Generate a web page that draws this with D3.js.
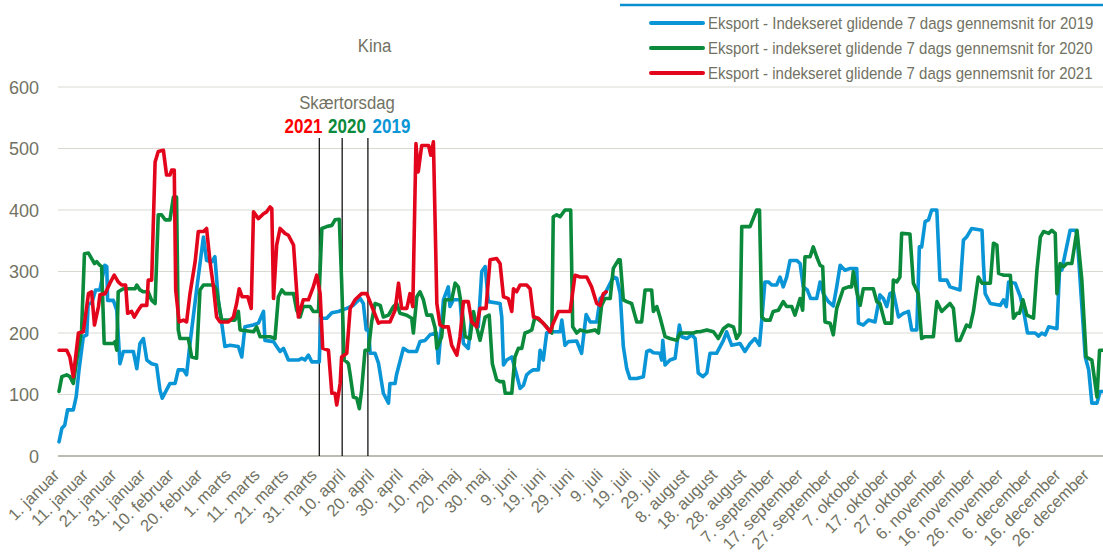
<!DOCTYPE html>
<html>
<head>
<meta charset="utf-8">
<script src="https://cdn.jsdelivr.net/npm/d3@7"></script>
<style>
  html, body { margin: 0; padding: 0; background: #fff; }
  svg { display: block; }
  text { font-family: "Liberation Sans", Arial, sans-serif; }
</style>
</head>
<body>
<svg id="chart" width="1103" height="560"></svg>
<script>
// ---------------- DATA ----------------
const title = "Kina";
const seriesNames = [
  "Eksport - Indekseret glidende 7 dags gennemsnit for 2019",
  "Eksport - indekseret glidende 7 dags gennemsnit for 2020",
  "Eksport - indekseret glidende 7 dags gennemsnit for 2021"
];
const yTicks = [0, 100, 200, 300, 400, 500, 600];
const tickDays = [1,11,21,31,41,51,61,71,81,91,101,111,121,131,141,151,161,171,181,191,201,211,221,231,241,251,261,271,281,291,301,311,321,331,341,351,361];
const tickLabels = ["1. januar","11. januar","21. januar","31. januar","10. februar","20. februar","1. marts","11. marts","21. marts","31. marts","10. april","20. april","30. april","10. maj","20. maj","30. maj","9. juni","19. juni","29. juni","9. juli","19. juli","29. juli","8. august","18. august","28. august","7. september","17. september","27. september","7. oktober","17. oktober","27. oktober","6. november","16. november","26. november","6. december","16. december","26. december"];
// Skærtorsdag (day of year on the shared axis)
const easterYears = ["2021", "2020", "2019"];
const easterDays = [92, 100, 109];

// [day, value]
const eksport2019 = [[1,23],[2,45],[3,50],[4,75],[6,75],[7,96],[8,140],[9.5,194],[10.7,197],[11.2,248],[12.4,248],[13.8,270],[15.3,270],[17,310],[17.7,308],[18,253],[20,253],[21.2,237],[22.3,150],[23.5,170],[27,170],[28.2,142],[29.3,183],[30.5,191],[31.7,156],[33.4,150],[35.1,148],[36.3,107],[37.1,94],[39.8,118],[41.6,118],[42.7,140],[44.5,140],[45.6,132],[46.8,183],[49.1,270],[51.5,356],[52.6,318],[54.4,316],[55.5,324],[56.7,253],[57.9,216],[59,178],[60.8,180],[63.7,178],[64.9,161],[66,210],[68.9,213],[70.7,216],[72.5,235],[73,188],[76,186],[77.1,178],[78.3,170],[79.5,175],[81.2,156],[84.7,156],[85.9,159],[87,156],[88.2,164],[89.4,153],[92,153],[92.5,224],[94.6,224],[96.4,233],[98.7,235],[99.8,237],[101.6,240],[103.9,245],[106.3,256],[107.4,248],[108.4,205],[109.2,205],[109.8,167],[111.5,167],[112.7,151],[114.4,102],[116.2,86],[116.7,118],[118.5,118],[119,132],[121.4,175],[123.2,170],[126,170],[127.2,186],[129,188],[130.7,197],[133,200],[133.6,151],[134.2,183],[135.4,254],[137.1,275],[137.7,243],[138.9,254],[141.2,254],[142.4,183],[144.1,175],[145.3,227],[147.6,210],[148.8,300],[150,308],[151.1,251],[155.2,248],[155.8,226],[156.4,148],[157.5,156],[159.3,161],[161,132],[162.2,110],[163.4,115],[164.5,132],[165.7,137],[166.8,140],[168.6,140],[169.2,172],[170.3,156],[171.5,200],[172.7,202],[176.2,202],[176.8,221],[177.9,180],[179.1,186],[182,187],[183.7,167],[185.3,230],[186.7,218],[189,218],[190.2,256],[191.9,264],[193.7,281],[194.8,291],[196,289],[197.2,264],[198.3,178],[199.5,142],[200.6,126],[203,126],[205.3,129],[206.5,170],[207.6,172],[208.8,168],[211.1,167],[211.7,156],[212.1,188],[212.9,148],[214.6,156],[216.4,159],[217.9,213],[218.7,194],[220.5,191],[222.2,197],[223.4,191],[224.5,135],[226.1,129],[227.5,135],[228.6,167],[230.9,167],[233.3,188],[234.4,202],[236.2,180],[239.1,183],[240.8,170],[242.6,183],[244.3,191],[245.9,180],[246.7,221],[247.8,283],[249,283],[250.2,278],[251.9,278],[253.1,291],[254.2,275],[255.4,291],[256.6,318],[258.9,318],[260.1,313],[261.2,275],[262.6,270],[263.8,256],[265.9,256],[267.1,283],[268.2,264],[270,251],[271.7,244],[272.9,275],[274.1,310],[275.8,302],[277.6,305],[279.9,305],[280.5,216],[282.2,213],[284,221],[286.3,218],[288,262],[289.2,256],[290.4,243],[291.5,264],[292.7,267],[294.5,226],[296.2,232],[298,235],[299.1,205],[300.9,205],[301.8,340],[302.6,340],[303.8,381],[305,384],[306.1,400],[307.9,400],[309,286],[311.4,286],[312.5,275],[316,270],[317.2,351],[318.3,356],[320.1,370],[323.7,367],[324.2,313],[324.8,264],[326.6,248],[330.1,245],[331.2,254],[332.2,243],[333,283],[335.3,281],[337.1,259],[338.2,237],[339.6,200],[342.3,200],[343.5,195],[344.6,200],[345.8,197],[347,210],[349.9,207],[350.8,302],[351.6,302],[352.2,316],[354.5,367],[356.3,367],[356.9,362],[359.8,161],[361,140],[362.1,86],[363.9,86],[365,105],[366,105]];

const eksport2020 = [[1,105],[2,129],[3.7,132],[4.8,129],[6,118],[7,150],[8.9,205],[9.9,329],[11.3,330],[12.4,321],[13.4,313],[14.2,316],[15.3,310],[15.9,308],[16.8,183],[20,183],[20.6,186],[21.2,172],[21.7,267],[23.5,272],[27.6,272],[28.2,278],[29.3,270],[30.5,267],[32.2,267],[33.4,253],[34.6,248],[35.7,392],[36.9,392],[38.1,384],[39.8,384],[41,421],[42.1,421],[42.7,205],[43.3,191],[46.2,191],[47.4,161],[49.1,159],[50.3,270],[51.5,278],[55,278],[56.1,270],[57.3,235],[57.9,221],[62.5,221],[63.7,235],[64.3,205],[69,202],[70.1,210],[71.3,194],[74.8,194],[76.5,191],[77.7,259],[78.9,270],[80,264],[83,264],[84.1,237],[85.3,226],[86.4,243],[88.8,243],[89.9,235],[91.7,235],[92.9,370],[94.6,373],[96.4,375],[97.5,384],[99,385],[99.8,286],[100.7,156],[101.6,153],[102.2,150],[102.8,132],[103.9,96],[105.1,94],[106,77],[106.8,107],[108,172],[109.2,172],[110.3,218],[111.5,248],[113.3,245],[114.4,226],[116.2,229],[117.9,243],[119.1,248],[120.2,232],[122.6,229],[124.3,224],[124.9,200],[126.1,259],[127.2,267],[128.4,254],[129.6,229],[131.3,229],[132.5,208],[133.1,175],[134.8,194],[136,254],[138.3,254],[139.5,281],[140.6,275],[141.8,243],[143,194],[144.7,191],[145.9,235],[147,210],[148.2,188],[150,226],[151.4,229],[152.5,150],[154,124],[155.2,121],[156.4,121],[157,102],[159.3,102],[160.4,161],[161.6,175],[162.8,175],[163.9,200],[165.1,202],[166.3,205],[167.4,226],[169.8,218],[171.5,210],[173.3,200],[173.8,389],[175,392],[176.2,389],[177.9,400],[179.9,400],[180.6,210],[182,200],[183.2,205],[185.5,202],[188.4,205],[189.6,200],[190.7,245],[191.9,256],[193.7,256],[194.8,305],[196.6,319],[197.2,319],[198.3,254],[199.5,251],[201.2,248],[203,218],[204.7,218],[205.9,270],[208.2,270],[208.8,235],[210,243],[211.1,226],[212.9,194],[214.6,191],[217,188],[218.1,200],[222.8,200],[224,202],[225.1,202],[227.5,205],[229.8,202],[231.5,191],[233.3,207],[235,213],[236.8,210],[237.9,191],[239.1,200],[239.7,373],[242.6,373],[244.9,400],[245.9,400],[246.7,226],[247.8,221],[249.6,221],[250.7,235],[252.5,237],[254.2,251],[255.4,243],[257.2,243],[258.3,229],[260.1,256],[261,237],[261.8,324],[263.6,324],[264.7,340],[265.9,324],[267.1,310],[268,308],[268.8,218],[270.6,216],[271.7,197],[272.9,240],[275.2,272],[277,275],[278.1,275],[278.7,300],[279.9,267],[281.1,245],[282.2,272],[285.7,272],[286.9,251],[288,248],[289.8,216],[292.1,216],[292.7,286],[293.9,283],[295,291],[295.6,362],[298.5,361],[299.7,281],[301.4,264],[302.6,191],[303.8,194],[306.7,194],[307.9,251],[309.6,235],[311.4,243],[312.5,248],[313.7,240],[314.8,188],[316,188],[318.3,213],[319.5,210],[320.7,235],[322.4,291],[323.7,281],[326.6,281],[327.7,346],[328.9,343],[329.5,297],[331.2,294],[333.6,294],[334.7,224],[335.9,232],[336.8,232],[338,254],[339.4,229],[341.7,224],[342.9,302],[344.1,356],[345.2,365],[347,362],[348.1,367],[349.3,362],[349.9,264],[351,313],[352.2,308],[353.4,313],[355.1,313],[356.9,367],[358.6,286],[360.1,161],[362.1,156],[363.9,96],[364.8,172],[366,172]];

const eksport2021 = [[1,172],[3.7,172],[4.8,161],[6,129],[7.8,200],[9.5,202],[10.7,243],[11.3,264],[12.4,267],[13.4,213],[14.8,243],[15.3,262],[17.1,264],[18.8,281],[20.3,294],[21.7,283],[22.9,278],[24.3,278],[25,232],[26.4,235],[27.3,226],[28.7,237],[29.9,245],[31.7,245],[32.2,286],[33.4,286],[34.6,478],[35.7,495],[37.5,497],[38.6,457],[39.8,457],[40.4,465],[41.3,465],[41.8,270],[43,218],[44.5,221],[45.6,218],[46.8,264],[48.6,316],[49.7,365],[51.5,365],[52.6,370],[53.8,316],[55,275],[56.1,226],[57.3,218],[60.2,218],[62,226],[63.1,248],[64,272],[65,259],[67,259],[68.2,240],[69,397],[70.7,386],[72.5,394],[73.6,397],[74.8,405],[75.4,402],[76,256],[77.1,343],[78.3,370],[80,362],[81.2,359],[83,343],[84.7,226],[86.4,254],[88.2,254],[89.9,275],[91.1,294],[92.3,264],[93.2,175],[95.2,172],[96.4,102],[97.5,102],[98.1,83],[99.3,118],[99.8,161],[101.6,167],[102.8,240],[104.5,254],[106.8,264],[108.6,264],[110.9,237],[112.7,216],[113.8,218],[116.7,218],[118.5,237],[119.7,281],[120.8,240],[122.6,240],[123.7,264],[124.7,243],[125.8,508],[126.6,462],[127.8,505],[130.2,505],[131,489],[131.9,511],[133.1,248],[134.2,213],[135.4,210],[137.1,210],[138.3,180],[140.1,164],[141.2,194],[142.4,251],[144.1,251],[145.3,218],[147,210],[148.2,240],[150.3,240],[151.7,319],[154,321],[155.2,313],[156.4,259],[158.1,256],[159.3,235],[159.9,272],[161,267],[162.2,278],[164.5,278],[165.7,272],[166.9,226],[168.6,224],[170.3,216],[172.7,202],[173.8,216],[175.6,235],[179.7,235],[181.4,294],[183.2,291],[185.5,291],[187.2,275],[189,248],[190.2,245],[191.3,264],[192.3,267]];

const seriesColors = ["#0a95d7", "#0a8a3a", "#e3051c"];
const seriesData = [eksport2019, eksport2020, eksport2021];

// ---------------- DRAW ----------------
const svg = d3.select("#chart");
const textColor = "#727263";

const x = d3.scaleLinear().domain([1, 366]).range([59, 1103]);
const y = d3.scaleLinear().domain([0, 600]).range([456, 87]);

// thin blue border line at the very top
svg.append("line")
  .attr("x1", 620).attr("x2", 1103).attr("y1", 5).attr("y2", 5)
  .attr("stroke", "#0a8fd0").attr("stroke-width", 2.5);

// gridlines
svg.append("g").selectAll("line")
  .data(yTicks.filter(v => v > 0))
  .join("line")
  .attr("x1", 58).attr("x2", 1103)
  .attr("y1", d => y(d)).attr("y2", d => y(d))
  .attr("stroke", "#d9d9d2").attr("stroke-width", 1.2);

// y axis labels
const yAxis = d3.axisLeft(y).tickValues(yTicks).tickSize(0).tickPadding(0).tickFormat(d3.format("d"));
const gy = svg.append("g").attr("transform", "translate(39,0)").call(yAxis);
gy.select(".domain").remove();
gy.selectAll("text")
  .attr("fill", textColor)
  .attr("font-size", 18)
  .attr("dy", "0.36em")
  .style("font-family", "'Liberation Sans', Arial, sans-serif");

// x axis
const xAxis = d3.axisBottom(x).tickValues(tickDays).tickSize(0)
  .tickFormat((d, i) => tickLabels[i]);
const gx = svg.append("g").attr("transform", "translate(0,456)").call(xAxis);
gx.select(".domain").remove();
gx.selectAll(".tick text")
  .attr("fill", textColor)
  .attr("font-size", 16.5)
  .attr("text-anchor", "end")
  .attr("x", 0).attr("y", 0).attr("dy", 0)
  .attr("transform", "translate(1,20) rotate(-45)")
  .style("font-family", "'Liberation Sans', Arial, sans-serif");

// baseline axis line at 0
svg.append("line")
  .attr("x1", 58).attr("x2", 1103).attr("y1", y(0)).attr("y2", y(0))
  .attr("stroke", "#a7a696").attr("stroke-width", 1.5);

// Skærtorsdag lines
svg.append("g").selectAll("line")
  .data(easterDays)
  .join("line")
  .attr("x1", d => x(d)).attr("x2", d => x(d))
  .attr("y1", 138).attr("y2", y(0))
  .attr("stroke", "#000").attr("stroke-width", 1.2);

// series lines
const line = d3.line().x(d => x(d[0])).y(d => y(d[1]));
svg.append("g").selectAll("path")
  .data(seriesData)
  .join("path")
  .attr("d", d => line(d))
  .attr("fill", "none")
  .attr("stroke", (d, i) => seriesColors[i])
  .attr("stroke-width", 3.6)
  .attr("stroke-linejoin", "round")
  .attr("stroke-linecap", "round");

// title
svg.append("text")
  .attr("transform", "translate(374.5,52) scale(0.88,1)")
  .attr("text-anchor", "middle")
  .attr("font-size", 19)
  .attr("fill", textColor)
  .text(title);

// Skærtorsdag annotation
svg.append("text")
  .attr("transform", "translate(347,109) scale(0.88,1)")
  .attr("text-anchor", "middle")
  .attr("font-size", 19)
  .attr("fill", textColor)
  .text("Skærtorsdag");

const yearX = [303.5, 347, 391.5];
const yearColors = ["#ff0000", "#0a8a3a", "#0a95d7"];
svg.append("g").selectAll("text")
  .data(easterYears)
  .join("text")
  .attr("transform", (d, i) => `translate(${yearX[i]},133) scale(0.85,1)`)
  .attr("text-anchor", "middle")
  .attr("font-size", 20).attr("font-weight", "bold")
  .attr("fill", (d, i) => yearColors[i])
  .text(d => d);

// legend
const lg = svg.append("g").selectAll("g")
  .data(seriesNames)
  .join("g")
  .attr("transform", (d, i) => `translate(0,${23 + i * 25})`);
lg.append("line")
  .attr("x1", 651).attr("x2", 703).attr("y1", 0).attr("y2", 0)
  .attr("stroke", (d, i) => seriesColors[i]).attr("stroke-width", 4)
  .attr("stroke-linecap", "round");
lg.append("text")
  .attr("transform", "translate(708,5.5) scale(0.91,1)")
  .attr("font-size", 16.5)
  .attr("fill", textColor)
  .text(d => d);
</script>
</body>
</html>
